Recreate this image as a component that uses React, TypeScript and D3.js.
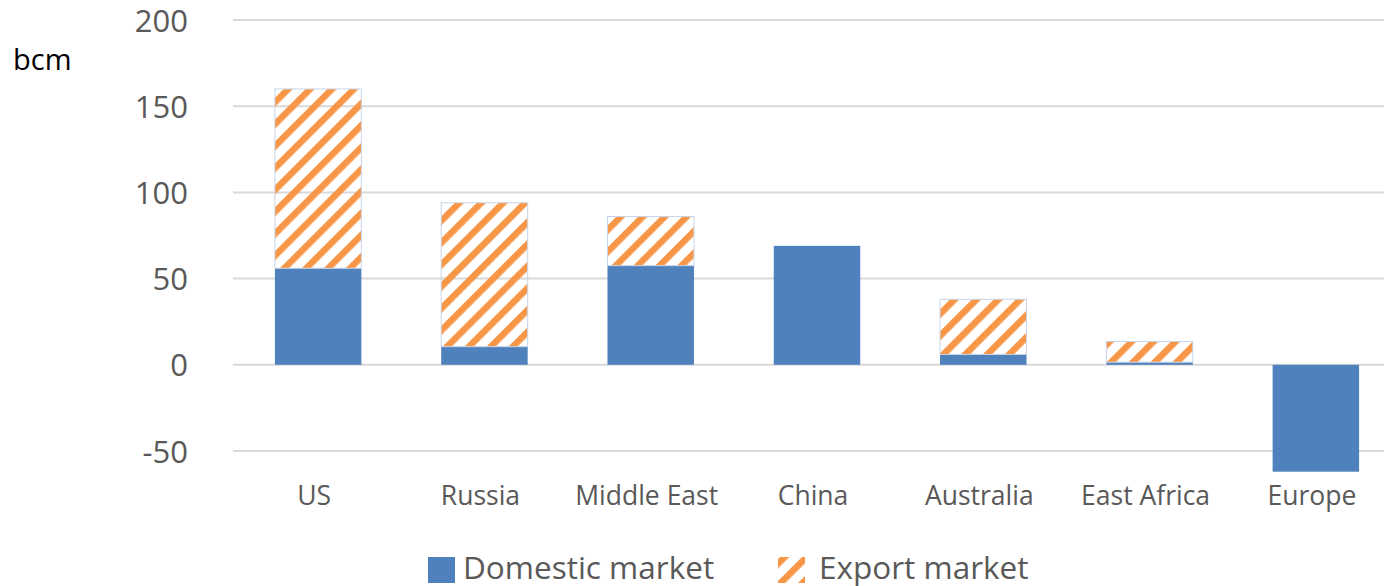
import React from "react";
import * as d3 from "d3";

const categories = ["US", "Russia", "Middle East", "China", "Australia", "East Africa", "Europe"];
const domestic = [56, 10.5, 57.5, 69, 6, 1.5, -62];
const exportMkt = [104, 83.5, 28.5, 0, 32, 12, 0];
const yTicks = [-50, 0, 50, 100, 150, 200];

const W = 1384;
const H = 586;
const FONT = "'Open Sans', sans-serif";

export default function App() {
  const x = d3.scaleBand<string>().domain(categories).range([235, 1399]).paddingInner(0.48).paddingOuter(0.24);
  const y = d3.scaleLinear().domain([-50, 200]).range([451, 20]);
  const bw = x.bandwidth();
  const blue = "#4F81BD";
  const orange = "#F79646";

  return (
    <svg width={W} height={H} style={{ position: "absolute", left: 0, top: 0, background: "#fff" }}>
      <defs>
        <pattern id="hatch" patternUnits="userSpaceOnUse" width={15.5} height={15.5} patternTransform="rotate(45)">
          <rect x={0} y={0} width={6.5} height={15.5} fill={orange} />
        </pattern>
      </defs>
      {yTicks.map((t) => (
        <g key={t}>
          <line x1={233} x2={W} y1={y(t)} y2={y(t)} stroke="#d9d9d9" strokeWidth={2} />
          <text x={188} y={y(t) + 11.5} textAnchor="end" fontFamily={FONT} fontSize={31} fill="#595959">
            {t}
          </text>
        </g>
      ))}
      <text x={13} y={70} fontFamily={FONT} fontSize={29} fill="#000">bcm</text>
      {categories.map((c, i) => {
        const d = domestic[i];
        const e = exportMkt[i];
        const x0 = x(c)!;
        const dTop = y(Math.max(0, d));
        const dBot = y(Math.min(0, d));
        return (
          <g key={c}>
            <rect x={x0} y={dTop} width={bw} height={dBot - dTop} fill={blue} />
            {e > 0 && (
              <rect
                x={x0}
                y={y(d + e)}
                width={bw}
                height={y(d) - y(d + e)}
                fill="url(#hatch)"
                stroke="#c6d5ea"
                strokeWidth={1}
              />
            )}
            <text x={x0 + bw / 2 - 4} y={505} textAnchor="middle" fontFamily={FONT} fontSize={26.5} fill="#595959">
              {c}
            </text>
          </g>
        );
      })}
      <g>
        <rect x={428} y={557} width={27} height={26} fill={blue} />
        <text x={463} y={579} fontFamily={FONT} fontSize={31.5} fill="#595959">Domestic market</text>
        <rect x={778} y={557} width={27} height={26} fill="url(#hatch)" />
        <text x={819} y={579} fontFamily={FONT} fontSize={31.5} fill="#595959">Export market</text>
      </g>
    </svg>
  );
}
